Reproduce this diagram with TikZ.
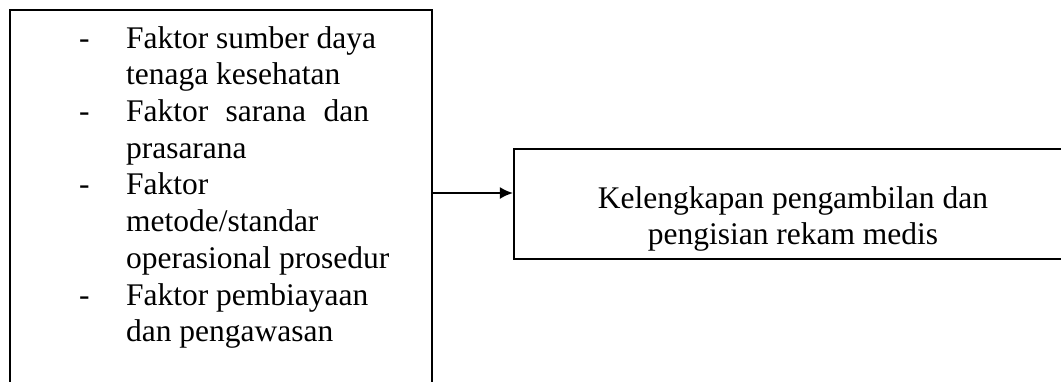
\documentclass[tikz,border=0pt]{standalone}
\usepackage{fontspec}
\setmainfont{Liberation Serif}
\usetikzlibrary{arrows.meta}
\tikzset{
  frame/.style={draw,rectangle,inner sep=0pt,anchor=north west},
  body/.style={inner sep=0pt,font=\fontsize{12}{14}\selectfont},
}
\newcommand{\dashcol}{17.9pt}

\begin{document}
\begin{tikzpicture}[x=0.381pt,y=-0.381pt,>={Latex[length=5pt,width=4.6pt]},line width=0.8pt]
    \useasboundingbox (0,0) rectangle (1061,381);
    \clip (0,0) rectangle (1061,381);
    \node[frame,minimum width=160.8pt,minimum height=156.6pt] (factors) at (9,9) {};
    \node[frame,minimum width=223.6pt,minimum height=41.9pt] (outcome) at (513,148) {};
    \node[body,anchor=base west] (factorlist) at (78,48) {%
      \begin{tabular}[t]{@{}p{\dashcol}@{}l@{}}
        - & Faktor sumber daya\\
          & tenaga kesehatan\\
        - & \makebox[92.6pt][s]{Faktor sarana dan}\\
          & prasarana\\
        - & Faktor\\
          & metode/standar\\
          & operasional prosedur\\
        - & Faktor pembiayaan\\
          & dan pengawasan
      \end{tabular}};
    \node[body,anchor=base] (outcometext) at (793,208) {%
      \begin{tabular}[t]{@{}c@{}}
        Kelengkapan pengambilan dan\\
        pengisian rekam medis
      \end{tabular}};
    \coordinate (level) at (0,193);
    \draw[->] (factors.east |- level) -- (outcome.west |- level);
\end{tikzpicture}
\end{document}
